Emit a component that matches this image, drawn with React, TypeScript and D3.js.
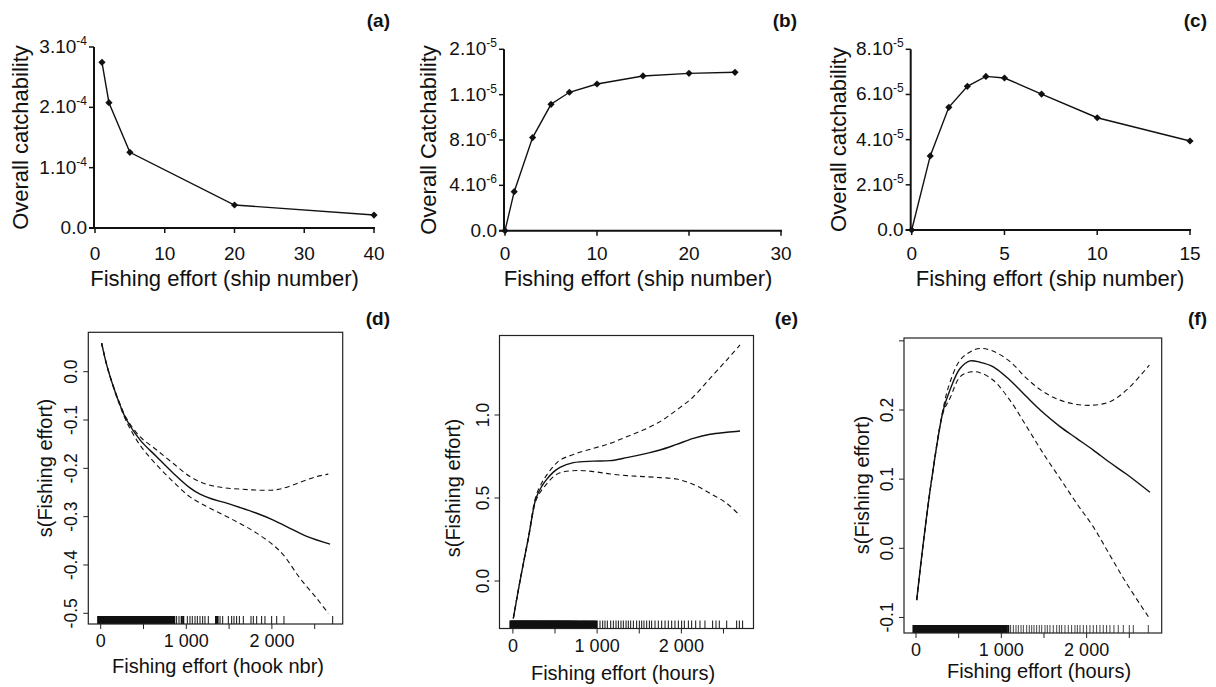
import React from "react";
import * as d3 from "d3";

const FONT = "'Liberation Sans', Arial, Helvetica, sans-serif";

// ---------- Top panels data ----------
const aShips = [1, 2, 5, 20, 40];
const aCatch = [2.746e-4, 2.077e-4, 1.254e-4, 0.381e-4, 0.215e-4];
const aXTicks = [0, 10, 20, 30, 40];
const aYTicks = [0, 1e-4, 2e-4, 3e-4];
const aYBase = ["0.0", "1.10", "2.10", "3.10"];
const aYSup = ["", "-4", "-4", "-4"];

const bShips = [0, 1, 3, 5, 7, 10, 15, 20, 25];
const bCatch = [0, 3.44e-6, 8.21e-6, 11.15e-6, 12.21e-6, 12.94e-6, 13.65e-6, 13.88e-6, 13.97e-6];
const bXTicks = [0, 10, 20, 30];
const bYTicks = [0, 4e-6, 8e-6, 1.2e-5, 1.6e-5];
const bYBase = ["0.0", "4.10", "8.10", "1.10", "2.10"];
const bYSup = ["", "-6", "-6", "-5", "-5"];

const cShips = [0, 1, 2, 3, 4, 5, 7, 10, 15];
const cCatch = [0, 3.28e-5, 5.43e-5, 6.36e-5, 6.8e-5, 6.73e-5, 6.02e-5, 4.97e-5, 3.94e-5];
const cXTicks = [0, 5, 10, 15];
const cYTicks = [0, 2e-5, 4e-5, 6e-5, 8e-5];
const cYBase = ["0.0", "2.10", "4.10", "6.10", "8.10"];
const cYSup = ["", "-5", "-5", "-5", "-5"];

// ---------- Bottom panels data ----------
const dSolidX = [11, 70, 148, 226, 303, 459, 654, 848, 1043, 1160, 1300, 1433, 1627, 1822, 2017, 2211, 2407, 2679];
const dSolidY = [0.059, 0.014, -0.031, -0.069, -0.1, -0.141, -0.176, -0.21, -0.2405, -0.2535, -0.2635, -0.27, -0.281, -0.293, -0.307, -0.324, -0.341, -0.357];
const dBandX = [11, 70, 148, 226, 303, 459, 654, 848, 1043, 1238, 1433, 1627, 1822, 2017, 2134, 2328, 2523, 2659];
const dUpperY = [0.059, 0.014, -0.03, -0.067, -0.097, -0.1345, -0.162, -0.19, -0.217, -0.233, -0.24, -0.243, -0.245, -0.245, -0.241, -0.229, -0.217, -0.212];
const dLowerY = [0.059, 0.014, -0.032, -0.071, -0.104, -0.152, -0.193, -0.228, -0.259, -0.279, -0.2965, -0.314, -0.334, -0.359, -0.379, -0.4275, -0.469, -0.5];
const dYTicks = [0, -0.1, -0.2, -0.3, -0.4, -0.5];

const eSolidX = [5, 84, 183, 274, 342, 401, 480, 559, 717, 955, 1153, 1351, 1588, 1746, 1944, 2142, 2340, 2538, 2696];
const eSolidY = [-0.225, 0.0, 0.257, 0.498, 0.57, 0.612, 0.656, 0.685, 0.713, 0.722, 0.725, 0.743, 0.769, 0.789, 0.823, 0.859, 0.884, 0.896, 0.904];
const eBandX = [5, 84, 183, 274, 342, 401, 480, 559, 757, 955, 1153, 1351, 1548, 1746, 1944, 2142, 2340, 2538, 2696];
const eUpperY = [-0.225, 0.0, 0.262, 0.512, 0.59, 0.638, 0.69, 0.728, 0.769, 0.799, 0.829, 0.869, 0.91, 0.96, 1.03, 1.11, 1.221, 1.331, 1.422];
const eLowerY = [-0.225, 0.0, 0.252, 0.486, 0.548, 0.585, 0.628, 0.652, 0.666, 0.659, 0.645, 0.635, 0.629, 0.623, 0.614, 0.582, 0.528, 0.468, 0.393];
const eYTicks = [0, 0.5, 1.0];

const fSolidX = [8, 78, 184, 320, 398, 516, 633, 750, 906, 1102, 1297, 1492, 1688, 1883, 2078, 2273, 2469, 2742];
const fSolidY = [-0.075, 0.0, 0.1, 0.2, 0.229, 0.26, 0.271, 0.269, 0.2625, 0.243, 0.219, 0.196, 0.176, 0.159, 0.142, 0.124, 0.107, 0.081];
const fBandX = [8, 78, 184, 320, 398, 516, 633, 750, 906, 1102, 1297, 1492, 1688, 1883, 2078, 2273, 2469, 2735];
const fUpperY = [-0.075, 0.0, 0.1, 0.203, 0.24, 0.272, 0.284, 0.289, 0.285, 0.27, 0.2457, 0.2264, 0.2143, 0.208, 0.207, 0.212, 0.229, 0.265];
const fLowerY = [-0.075, 0.0, 0.1, 0.197, 0.217, 0.248, 0.255, 0.254, 0.243, 0.214, 0.176, 0.137, 0.101, 0.065, 0.031, -0.01, -0.051, -0.101];
const fYTicks = [-0.1, 0.0, 0.1, 0.2, 0.3];
const fYLabels = ["-0.1", "0.0", "0.1", "0.2", ""];

const bottomXTicks = [0, 500, 1000, 1500, 2000, 2500];
const bottomXLabels = ["0", "", "1 000", "", "2 000", ""];

// rug (observed effort values)
const rugCommon = [-30, -20, -10, 0, 8, 15, 24, 31, 40, 47, 55, 63, 71, 80, 88, 95, 103, 112, 120, 127, 135, 144, 152, 160, 168, 175, 184, 192, 200, 208, 216, 225, 233, 240, 249, 257, 265, 273, 281, 290, 298, 306, 314, 322, 330, 339, 347, 355, 363, 371, 380, 388, 396, 404, 412, 421, 430, 438, 446, 455, 463, 472, 480, 489, 497, 506, 514, 523, 532, 541, 549, 558, 567, 576, 585, 594, 603, 612, 622, 631, 640, 650, 660, 669, 679, 689, 700, 710, 721, 732, 744, 755, 767, 779, 792, 805, 818, 832, 846];
const rugDExtra = [860, 887, 915, 946, 965, 1012, 1043, 1070, 1102, 1129, 1160, 1191, 1218, 1257, 1347, 1366, 1394, 1425, 1491, 1530, 1557, 1588, 1620, 1666, 1756, 1783, 1822, 1880, 1919, 1997, 2056, 2141, 2710];
const rugEExtra = [858, 871, 884, 897, 910, 924, 938, 952, 966, 980, 995, 1034, 1066, 1093, 1121, 1161, 1192, 1224, 1252, 1283, 1311, 1343, 1370, 1398, 1430, 1469, 1501, 1529, 1556, 1588, 1620, 1647, 1687, 1726, 1766, 1806, 1845, 1885, 1924, 1964, 2003, 2035, 2083, 2122, 2170, 2221, 2280, 2371, 2411, 2450, 2538, 2656, 2688, 2727];
const rugFExtra = [858, 870, 882, 894, 906, 918, 930, 942, 955, 968, 981, 994, 1007, 1020, 1034, 1048, 1063, 1082, 1109, 1141, 1172, 1199, 1231, 1258, 1297, 1328, 1356, 1383, 1414, 1445, 1473, 1512, 1539, 1570, 1609, 1649, 1680, 1707, 1746, 1785, 1824, 1863, 1891, 1922, 1961, 2000, 2039, 2078, 2117, 2156, 2195, 2234, 2273, 2320, 2371, 2430, 2500, 2547, 2723];

function zip(xs: number[], ys: number[]) {
  return xs.map((x, i) => [x, ys[i]] as [number, number]);
}

type TopProps = {
  xs: number[]; ys: number[];
  xDomain: [number, number]; xRange: [number, number];
  yDomain: [number, number]; yRange: [number, number];
  xTicks: number[]; yTicks: number[]; yBase: string[]; ySup: string[];
  yTitle: string; yTitleX: number; xTitleX: number;
  letter: string; letterX: number;
};

function TopPanel(p: TopProps) {
  const x = d3.scaleLinear().domain(p.xDomain).range(p.xRange);
  const y = d3.scaleLinear().domain(p.yDomain).range(p.yRange);
  const y0 = y(p.yDomain[0]);
  const yTop = y(p.yDomain[1]);
  const ax = x(p.xDomain[0]) - 1;
  const line = d3.line<[number, number]>().x(d => x(d[0])).y(d => y(d[1]));
  const pts = zip(p.xs, p.ys);
  const diamond = d3.symbol().type(d3.symbolSquare).size(26)();
  return (
    <g fontFamily={FONT} fill="#111">
      <path d={`M${ax - 5},${y0}H${x(p.xDomain[1]) + 1}`} stroke="#111" strokeWidth={2} fill="none" />
      <path d={`M${ax},${y0 + 1}V${yTop}`} stroke="#111" strokeWidth={2} fill="none" />
      {p.xTicks.map((t, i) => (
        <g key={"xt" + i}>
          <line x1={x(t)} x2={x(t)} y1={y0} y2={y0 + 5} stroke="#111" strokeWidth={1.5} />
          <text x={x(t)} y={260} textAnchor="middle" fontSize={19}>{t}</text>
        </g>
      ))}
      {p.yTicks.map((t, i) => (
        <g key={"yt" + i}>
          <line x1={ax - 5} x2={ax} y1={y(t)} y2={y(t)} stroke="#111" strokeWidth={1.5} />
          <text x={ax - 7} y={y(t) + 6} textAnchor="end" fontSize={19}>
            {p.yBase[i]}
            {p.ySup[i] ? <tspan fontSize={12} dy={-8}>{p.ySup[i]}</tspan> : null}
          </text>
        </g>
      ))}
      <path d={line(pts) || ""} fill="none" stroke="#111" strokeWidth={1.4} />
      {pts.map((d, i) => (
        <path key={"pt" + i} d={diamond || ""} transform={`translate(${x(d[0])},${y(d[1])}) rotate(45)`} fill="#111" />
      ))}
      <text transform={`translate(${p.yTitleX},${(y0 + yTop) / 2}) rotate(-90)`} textAnchor="middle" dy="0.35em" fontSize={22}>{p.yTitle}</text>
      <text x={p.xTitleX} y={285.5} textAnchor="middle" fontSize={22}>Fishing effort (ship number)</text>
      <text x={p.letterX} y={27} textAnchor="end" fontSize={19} fontWeight="bold">{p.letter}</text>
    </g>
  );
}

type BotProps = {
  box: [number, number, number, number]; // left, right, top, bottom
  xRange: [number, number]; // pixel for 0 and 2500
  yDomain: [number, number]; yRange: [number, number];
  yTicks: number[]; yLabels: string[];
  solidX: number[]; solidY: number[]; bandX: number[]; upperY: number[]; lowerY: number[];
  rug: number[]; rugColor: string;
  xTitle: string; xTitleX: number; xTitleY: number; yTitleX: number; yTitleY: number;
  letter: string; letterX: number;
};

function BottomPanel(p: BotProps) {
  const [L, R, T, B] = p.box;
  const x = d3.scaleLinear().domain([0, 2500]).range(p.xRange);
  const y = d3.scaleLinear().domain(p.yDomain).range(p.yRange);
  const line = d3.line<[number, number]>().x(d => x(d[0])).y(d => y(d[1])).curve(d3.curveCatmullRom.alpha(0.5));
  const rug = [...p.rug].sort((a, b) => a - b);
  const rugW = rug.map((v, i) => {
    const gPrev = i > 0 ? v - rug[i - 1] : 1e9;
    const gNext = i < rug.length - 1 ? rug[i + 1] - v : 1e9;
    return Math.min(gPrev, gNext) < 20 ? 2 : 1;
  });
  return (
    <g fontFamily={FONT} fill="#111">
      {rug.map((v, i) => (
        <line key={"r" + i} x1={x(v)} x2={x(v)} y1={B} y2={B - 8}
          stroke={rugW[i] > 1 ? "#111" : p.rugColor} strokeWidth={rugW[i]} />
      ))}
      <rect x={L} y={T} width={R - L} height={B - T} fill="none" stroke="#222" strokeWidth={1.2} />
      {bottomXTicks.map((t, i) => (
        <g key={"xt" + i}>
          <line x1={x(t)} x2={x(t)} y1={B} y2={B + 5} stroke="#222" strokeWidth={1} />
          {bottomXLabels[i] ? <text x={x(t)} y={B + 23} textAnchor="middle" fontSize={18}>{bottomXLabels[i]}</text> : null}
        </g>
      ))}
      {p.yTicks.map((t, i) => (
        <g key={"yt" + i}>
          <line x1={L - 5} x2={L} y1={y(t)} y2={y(t)} stroke="#222" strokeWidth={1} />
          {p.yLabels[i] ? (
            <text transform={`translate(${L - 17},${y(t)}) rotate(-90)`} textAnchor="middle" dy="0.35em" fontSize={17.5}>{p.yLabels[i]}</text>
          ) : null}
        </g>
      ))}
      <path d={line(zip(p.bandX, p.upperY)) || ""} fill="none" stroke="#111" strokeWidth={1.1} strokeDasharray="5,3.5" />
      <path d={line(zip(p.bandX, p.lowerY)) || ""} fill="none" stroke="#111" strokeWidth={1.1} strokeDasharray="5,3.5" />
      <path d={line(zip(p.solidX, p.solidY)) || ""} fill="none" stroke="#111" strokeWidth={1.4} />
      <text transform={`translate(${p.yTitleX},${p.yTitleY}) rotate(-90)`} textAnchor="middle" dy="0.35em" fontSize={20}>s(Fishing effort)</text>
      <text x={p.xTitleX} y={p.xTitleY} textAnchor="middle" fontSize={20}>{p.xTitle}</text>
      <text x={p.letterX} y={325} textAnchor="end" fontSize={19} fontWeight="bold">{p.letter}</text>
    </g>
  );
}

export default function App() {
  const dy = dYTicks.map(v => v.toFixed(1));
  const ey = eYTicks.map(v => v.toFixed(1));
  return (
    <svg width={1216} height={687} style={{ position: "absolute", left: 0, top: 0, background: "#fff" }}>
      <rect width={1216} height={687} fill="#fff" />
      <TopPanel xs={aShips} ys={aCatch} xDomain={[0, 40]} xRange={[95, 374]} yDomain={[0, 3e-4]} yRange={[228, 47]}
        xTicks={aXTicks} yTicks={aYTicks} yBase={aYBase} ySup={aYSup}
        yTitle="Overall catchability" yTitleX={20} xTitleX={224.5} letter="(a)" letterX={390} />
      <TopPanel xs={bShips} ys={bCatch} xDomain={[0, 30]} xRange={[505, 781]} yDomain={[0, 1.6e-5]} yRange={[230.7, 49.3]}
        xTicks={bXTicks} yTicks={bYTicks} yBase={bYBase} ySup={bYSup}
        yTitle="Overall Catchability" yTitleX={428} xTitleX={638} letter="(b)" letterX={797} />
      <TopPanel xs={cShips} ys={cCatch} xDomain={[0, 15]} xRange={[911.7, 1190]} yDomain={[0, 8e-5]} yRange={[230, 49.3]}
        xTicks={cXTicks} yTicks={cYTicks} yBase={cYBase} ySup={cYSup}
        yTitle="Overall catchability" yTitleX={838} xTitleX={1050} letter="(c)" letterX={1207} />

      <BottomPanel box={[88.3, 342.7, 332.3, 624]} xRange={[100.7, 314.7]} yDomain={[0, -0.5]} yRange={[371.7, 613.3]}
        yTicks={dYTicks} yLabels={dy}
        solidX={dSolidX} solidY={dSolidY} bandX={dBandX} upperY={dUpperY} lowerY={dLowerY}
        rug={rugCommon.concat(rugDExtra)} rugColor="#111"
        xTitle="Fishing effort (hook nbr)" xTitleX={218} xTitleY={673} yTitleX={45} yTitleY={468}
        letter="(d)" letterX={390} />
      <BottomPanel box={[499.5, 753.5, 335.5, 628.5]} xRange={[512.9, 723.5]} yDomain={[0, 1]} yRange={[581, 415]}
        yTicks={eYTicks} yLabels={ey}
        solidX={eSolidX} solidY={eSolidY} bandX={eBandX} upperY={eUpperY} lowerY={eLowerY}
        rug={rugCommon.concat(rugEExtra)} rugColor="#111"
        xTitle="Fishing effort (hours)" xTitleX={623} xTitleY={680} yTitleX={453} yTitleY={488}
        letter="(e)" letterX={798} />
      <BottomPanel box={[904, 1161.7, 338, 633]} xRange={[916, 1129.3]} yDomain={[0, 0.2]} yRange={[548.3, 410]}
        yTicks={fYTicks} yLabels={fYLabels}
        solidX={fSolidX} solidY={fSolidY} bandX={fBandX} upperY={fUpperY} lowerY={fLowerY}
        rug={rugCommon.concat(rugFExtra)} rugColor="#444"
        xTitle="Fishing effort (hours)" xTitleX={1039} xTitleY={678} yTitleX={862} yTitleY={485}
        letter="(f)" letterX={1207} />
    </svg>
  );
}
